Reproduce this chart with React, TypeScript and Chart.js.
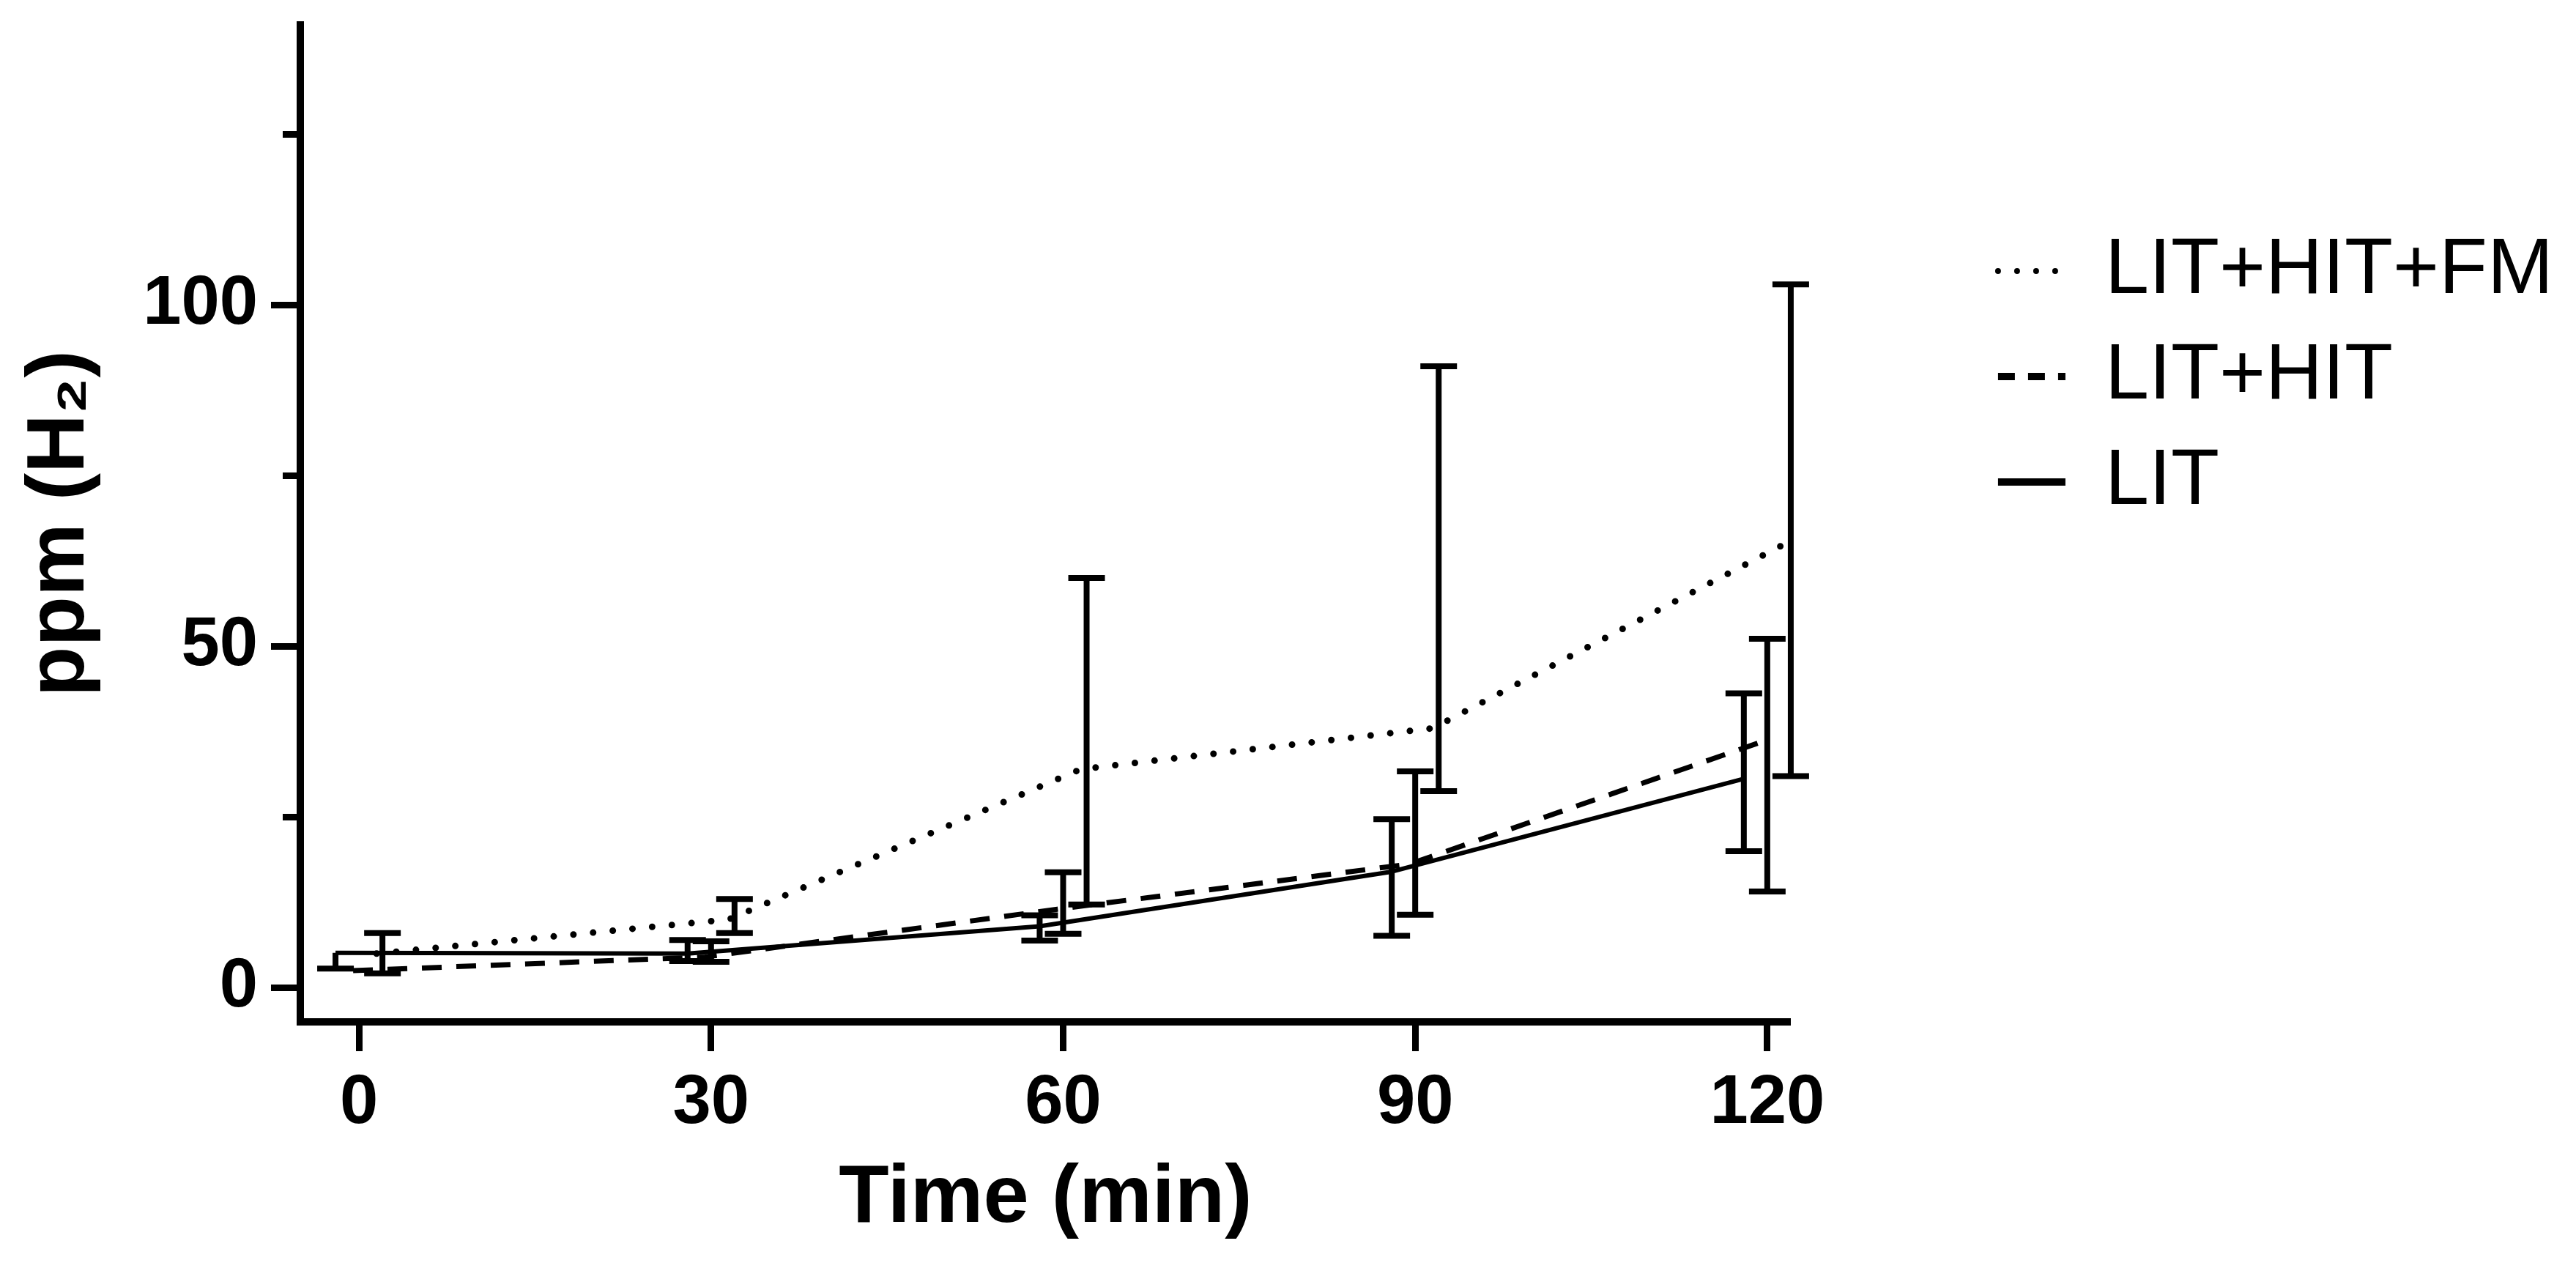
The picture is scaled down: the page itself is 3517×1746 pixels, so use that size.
import { useEffect, useRef } from 'react';
import { Chart, registerables } from 'chart.js';

Chart.register(...registerables);

// time points (min) and axis ticks
const times = [0, 30, 60, 90, 120];
const xTicks = [0, 30, 60, 90, 120];
const yTicks = [0, 50, 100];
const yMinorTicks = [25, 75, 125];

const seriesLabels = ['LIT+HIT+FM', 'LIT+HIT', 'LIT'];

// ppm H2, mean and error bar ends
const fmMean = [5.0, 10.0, 32.0, 38.0, 65.0];
const fmLow = [2.1, 8.0, 12.2, 28.8, 31.0];
const fmHigh = [8.0, 13.0, 60.0, 91.0, 103.0];

const litHitMean = [2.5, 4.5, 11.5, 18.1, 36.0];
const litHitLow = [2.5, 3.8, 7.9, 10.7, 14.1];
const litHitHigh = [2.5, 6.8, 16.9, 31.7, 51.1];

const litMean = [5.1, 5.0, 9.0, 17.0, 30.6];
const litLow = [2.8, 3.9, 6.9, 7.6, 20.0];
const litHigh = [5.1, 7.0, 10.6, 24.7, 43.1];

const means = [fmMean, litHitMean, litMean];
const lows = [fmLow, litHitLow, litLow];
const highs = [fmHigh, litHitHigh, litHigh];

const family = "'Liberation Sans', Arial, 'DejaVu Sans', sans-serif";

// per-series look (offsets are the small horizontal nudge used in the figure)
const styles = [
  { barOffset: 2, lineOffset: 1.5, width: 9, dash: [0, 27], cap: 'round' as const, legendWidth: 8, legendDash: [0, 26] },
  { barOffset: 0, lineOffset: -0.5, width: 7, dash: [27, 20], cap: 'butt' as const, legendWidth: 10, legendDash: [23, 18] },
  { barOffset: -2, lineOffset: -2, width: 6, dash: [] as number[], cap: 'butt' as const, legendWidth: 10, legendDash: [] as number[] },
];

const capHalf = 25;
const barWidth = 8;

const errorBars = {
  id: 'errorBars',
  afterDatasetsDraw(chart: Chart) {
    const { ctx } = chart;
    const x = chart.scales.x;
    const y = chart.scales.y;
    ctx.save();
    ctx.strokeStyle = '#000';
    ctx.lineWidth = barWidth;
    ctx.lineCap = 'butt';
    means.forEach((m, k) => {
      times.forEach((t, i) => {
        const lo = lows[k][i];
        const hi = highs[k][i];
        if (hi <= lo) return;
        const px = x.getPixelForValue(t + styles[k].barOffset);
        const pLo = y.getPixelForValue(lo);
        const pHi = y.getPixelForValue(hi);
        ctx.beginPath();
        ctx.moveTo(px, pLo);
        ctx.lineTo(px, pHi);
        if (hi > m[i]) {
          ctx.moveTo(px - capHalf, pHi);
          ctx.lineTo(px + capHalf, pHi);
        }
        if (lo < m[i]) {
          ctx.moveTo(px - capHalf, pLo);
          ctx.lineTo(px + capHalf, pLo);
        }
        ctx.stroke();
      });
    });
    ctx.restore();
  },
};

export default function App() {
  const ref = useRef<HTMLCanvasElement>(null);

  useEffect(() => {
    if (!ref.current) return;
    const axisFont = { family, size: 94, weight: 'bold' as const };
    const titleFont = { family, size: 112, weight: 'bold' as const };

    const chart = new Chart(ref.current, {
      type: 'line',
      data: {
        datasets: seriesLabels.map((label, k) => ({
          label,
          data: times.map((t, i) => ({ x: t + styles[k].lineOffset, y: means[k][i] })),
          borderColor: '#000',
          backgroundColor: '#000',
          borderWidth: styles[k].width,
          borderDash: styles[k].dash,
          borderCapStyle: styles[k].cap,
          borderJoinStyle: 'round' as const,
          pointRadius: 0,
          tension: 0,
          fill: false,
        })),
      },
      options: {
        animation: false,
        responsive: true,
        maintainAspectRatio: false,
        devicePixelRatio: 1,
        layout: { padding: { top: 34, right: 21, bottom: 0, left: 0 } },
        plugins: {
          tooltip: { enabled: false },
          legend: {
            position: 'right',
            align: 'start',
            maxWidth: 1200,
            onClick: () => {},
            title: { display: true, text: ' ', font: { size: 10 }, padding: { top: 234, bottom: 0 } },
            labels: {
              usePointStyle: true,
              pointStyleWidth: 92,
              padding: 36,
              color: '#000',
              font: { family, size: 108 },
              generateLabels: (c: Chart) =>
                c.data.datasets.map((ds, i) => ({
                  text: ds.label as string,
                  datasetIndex: i,
                  pointStyle: 'line' as const,
                  strokeStyle: '#000',
                  fillStyle: '#000',
                  fontColor: '#000',
                  lineWidth: styles[i].legendWidth,
                  lineDash: styles[i].legendDash,
                  lineCap: styles[i].cap,
                  hidden: false,
                })),
            },
          },
        },
        scales: {
          x: {
            type: 'linear',
            position: 'bottom',
            min: -5,
            max: 122,
            afterBuildTicks: (s) => { s.ticks = xTicks.map((value) => ({ value })); },
            afterFit: (s) => { s.height = 351; s.paddingLeft = 0; s.paddingRight = 0; },
            border: { display: true, color: '#000', width: 10 },
            grid: { display: true, drawOnChartArea: false, drawTicks: true, tickLength: 40, tickWidth: 9, tickColor: '#000' },
            ticks: { color: '#000', padding: 16, font: axisFont, maxRotation: 0, autoSkip: false },
            title: { display: true, text: 'Time (min)', color: '#000', font: titleFont, padding: { top: 0, bottom: 42 } },
          },
          y: {
            type: 'linear',
            position: 'left',
            weight: 1,
            min: -5,
            max: 141,
            afterBuildTicks: (s) => { s.ticks = yTicks.map((value) => ({ value })); },
            afterFit: (s) => { s.width = 410; s.paddingTop = 0; s.paddingBottom = 0; },
            border: { display: true, color: '#000', width: 10 },
            grid: { display: true, drawOnChartArea: false, drawTicks: true, tickLength: 40, tickWidth: 9, tickColor: '#000' },
            ticks: { color: '#000', padding: 18, font: axisFont, autoSkip: false },
            title: { display: true, text: 'ppm (H₂)', color: '#000', font: titleFont, padding: { top: 16, bottom: 0 } },
          },
          yMinor: {
            type: 'linear',
            position: 'left',
            weight: 0,
            min: -5,
            max: 141,
            afterBuildTicks: (s) => { s.ticks = yMinorTicks.map((value) => ({ value })); },
            afterFit: (s) => { s.width = 0; s.paddingTop = 0; s.paddingBottom = 0; },
            border: { display: false },
            grid: { display: true, drawOnChartArea: false, drawTicks: true, tickLength: 24, tickWidth: 9, tickColor: '#000' },
            ticks: { display: false },
          },
          gap: {
            type: 'linear',
            position: 'right',
            afterFit: (s) => { s.width = 247; },
            border: { display: false },
            grid: { display: false },
            ticks: { display: false },
          },
        },
      },
      plugins: [errorBars],
    });
    return () => chart.destroy();
  }, []);

  return (
    <div style={{ position: 'fixed', left: 0, top: 0, width: '100vw', height: '100vh', background: '#fff' }}>
      <canvas ref={ref} />
    </div>
  );
}
